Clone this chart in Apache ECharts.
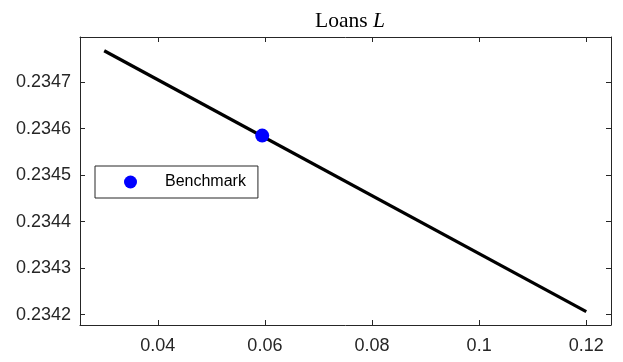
<!DOCTYPE html>
<html>
<head>
<meta charset="utf-8">
<script src="https://cdn.jsdelivr.net/npm/echarts@6/dist/echarts.min.js"></script>
<style>html,body{margin:0;padding:0;background:#fff}#c{width:623px;height:362px}</style>
</head>
<body>
<div id="c"></div>
<script>
// Data
const lineX = [0.03, 0.12];
const lineY = [0.2347673, 0.2342065];
const benchX = [0.0595];
const benchY = [0.2345849];
const xTicks = [0.04, 0.06, 0.08, 0.1, 0.12];
const yTicks = [0.2342, 0.2343, 0.2344, 0.2345, 0.2346, 0.2347];
const xLabels = ['0.04', '0.06', '0.08', '0.1', '0.12'];
const yLabels = ['0.2342', '0.2343', '0.2344', '0.2345', '0.2346', '0.2347'];
const xRange = [0.02548, 0.12462];
const yRange = [0.2341778, 0.2347968];

const axisColor = '#262626';
const font = 'Liberation Sans, Arial, sans-serif';

function fmt(ticks, labels) {
  return function (v) {
    for (let i = 0; i < ticks.length; i++) if (Math.abs(v - ticks[i]) < 1e-9) return labels[i];
    return '';
  };
}

const chart = echarts.init(document.getElementById('c'), null, {renderer: 'canvas'});
const baseX = {
  type: 'value', min: xRange[0], max: xRange[1],
  axisLine: {show: true, onZero: false, lineStyle: {color: axisColor, width: 1}},
  axisTick: {show: true, inside: true, length: 5, customValues: xTicks, lineStyle: {color: axisColor}},
  splitLine: {show: false}
};
const baseY = {
  type: 'value', min: yRange[0], max: yRange[1],
  axisLine: {show: true, onZero: false, lineStyle: {color: axisColor, width: 1}},
  axisTick: {show: true, inside: true, length: 5, customValues: yTicks, lineStyle: {color: axisColor}},
  splitLine: {show: false}
};
chart.setOption({
  animation: false,
  backgroundColor: '#fff',
  title: {
    text: '{n|Loans }{i|L}',
    left: 345, textAlign: 'center', top: 5,
    textStyle: {
      fontWeight: 'normal',
      rich: {
        n: {fontFamily: 'Liberation Serif, DejaVu Serif, serif', fontSize: 21.5, fontWeight: 'normal', color: '#000'},
        i: {fontFamily: 'Liberation Serif, DejaVu Serif, serif', fontSize: 21.5, fontWeight: 'normal', fontStyle: 'italic', color: '#000'}
      }
    }
  },
  grid: {left: 80, right: 12, top: 37, bottom: 37, containLabel: false},
  legend: {
    data: ['Benchmark'],
    left: 95, top: 166,
    orient: 'vertical',
    backgroundColor: '#fff',
    borderColor: axisColor, borderWidth: 1,
    padding: [8, 12, 8, 29],
    itemWidth: 13, itemHeight: 13,
    icon: 'circle',
    itemStyle: {opacity: 1},
    textStyle: {fontFamily: font, fontSize: 16, color: '#000', padding: [0, 0, 0, 23]}
  },
  xAxis: [
    Object.assign({}, baseX, {
      position: 'bottom',
      axisLabel: {show: true, customValues: xTicks, formatter: fmt(xTicks, xLabels), fontFamily: font, fontSize: 18, color: axisColor, margin: 12}
    }),
    Object.assign({}, baseX, {position: 'top', axisLabel: {show: false}})
  ],
  yAxis: [
    Object.assign({}, baseY, {
      position: 'left',
      axisLabel: {show: true, customValues: yTicks, formatter: fmt(yTicks, yLabels), fontFamily: font, fontSize: 18, color: axisColor, margin: 9}
    }),
    Object.assign({}, baseY, {position: 'right', axisLabel: {show: false}})
  ],
  series: [
    {
      name: 'line', type: 'line', xAxisIndex: 0, yAxisIndex: 0,
      data: lineX.map((x, i) => [x, lineY[i]]),
      showSymbol: false, symbol: 'none',
      lineStyle: {color: '#000', width: 3.2},
      z: 2
    },
    {
      name: 'Benchmark', type: 'scatter', xAxisIndex: 0, yAxisIndex: 0,
      data: benchX.map((x, i) => [x, benchY[i]]),
      symbol: 'circle', symbolSize: 14,
      itemStyle: {color: '#0000ff', opacity: 1},
      z: 3
    }
  ]
});
</script>
</body>
</html>
